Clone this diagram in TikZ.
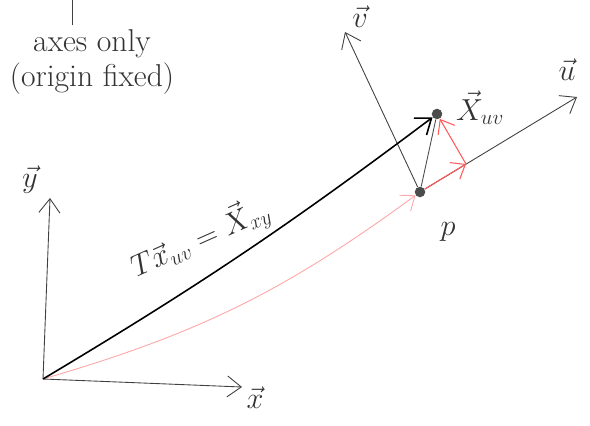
\documentclass[tikz,border=0pt]{standalone}
\usetikzlibrary{arrows.meta}
\tikzset{
  axis/.style={draw=black!75, line width=0.5pt, -{Straight Barb[length=8pt,width=12pt]}},
  posvec/.style={draw=black, line width=0.9pt, -{Straight Barb[length=8pt,width=12pt]}},
  redvec/.style={draw=red!65, line width=0.6pt, -{Straight Barb[length=7pt,width=11pt]}},
  dot/.style={circle, fill=black!70, inner sep=0pt, minimum size=6pt},
  lbl/.style={font=\fontsize{18}{20}\selectfont, text=black!80}
}
\begin{document}
\begin{tikzpicture}[x=0.02cm, y=-0.02cm]
\useasboundingbox (0,0) rectangle (590,425);

% Points
\coordinate (O) at (43,379);
\node[dot] (P) at (420,192) {};
\node[dot] (X) at (437,114) {};
\coordinate (ytip) at (50,198);
\coordinate (xtip) at (242,387);
\coordinate (utip) at (577,97);
\coordinate (vtip) at (345,32);
\coordinate (ucomp) at (466,164);

% World axes
\draw[axis] (O) -- (ytip);
\draw[axis] (O) -- (xtip);

% Local axes at p
\draw[axis] (P) -- (vtip);
\draw[axis] (P) -- (utip);

% Origin of local frame and position vector
\draw[redvec, draw=red!35, line width=0.5pt] (O) to[bend right=10] (P);
\draw[posvec] (O) to[bend right=3] (X);

% Components in u,v
\draw[black!70, line width=0.5pt] (P) -- (X);
\draw[redvec] (P) -- (ucomp);
\draw[redvec] (ucomp) -- (X);

% Labels
\node[lbl] (ylbl) at (30,180) {$\vec{y}$};
\node[lbl] (xlbl) at (255,398) {$\vec{x}$};
\node[lbl] (vlbl) at (360,17) {$\vec{v}$};
\node[lbl] (ulbl) at (567,70) {$\vec{u}$};
\node[lbl, anchor=west] (Xlbl) at (450,108) {$\vec{X}_{uv}$};
\node[lbl] (plbl) at (448,232) {$p$};
\node[lbl, rotate=24] (eq) at (200,238) {$T\vec{x}_{uv}=\vec{X}_{xy}$};

% Note
\coordinate (notetop) at (72,0);
\node[lbl, align=center] (note) at (92,62) {axes only\\(origin fixed)};
\draw[black!75, line width=0.5pt] (notetop) -- (72,25);
\end{tikzpicture}
\end{document}
